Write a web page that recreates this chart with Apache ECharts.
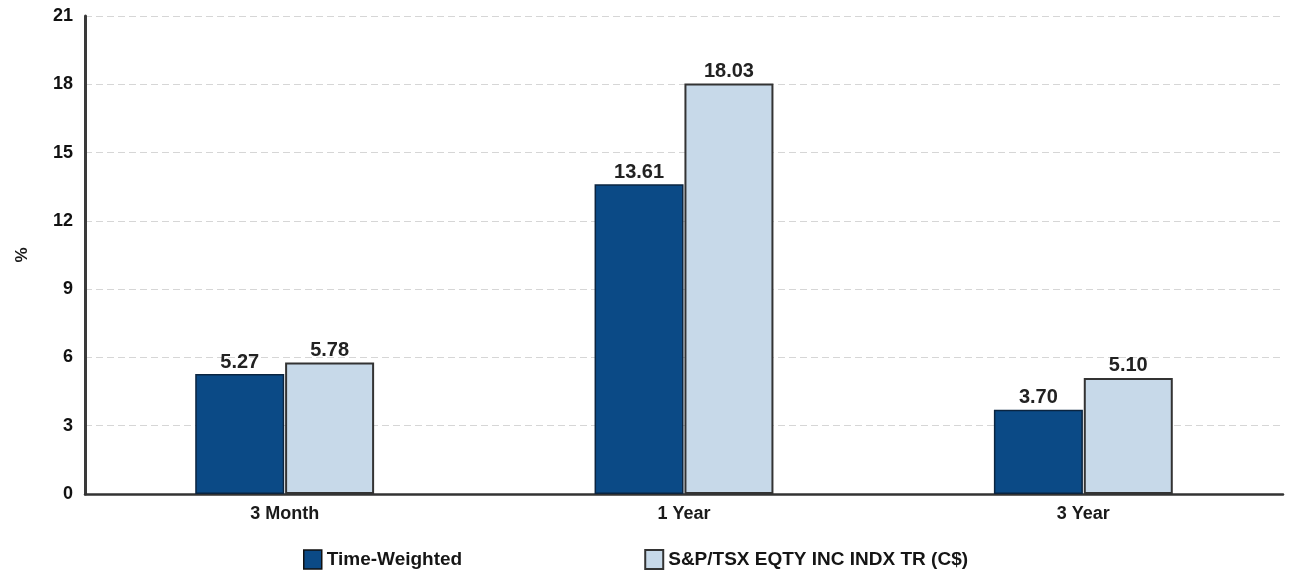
<!DOCTYPE html>
<html>
<head>
<meta charset="utf-8">
<script src="https://cdn.jsdelivr.net/npm/echarts@6/dist/echarts.min.js"></script>
<style>
  html, body { margin: 0; padding: 0; background: #fff; }
  #chart { width: 1290px; height: 573px; }
</style>
</head>
<body>
<div id="chart"></div>
<script>
// Return periods and series values (%)
const periods = ['3 Month', '1 Year', '3 Year'];
const timeWeighted = [5.27, 13.61, 3.70];
const benchmark = [5.78, 18.03, 5.10];
const seriesNames = ['Time-Weighted', 'S&P/TSX EQTY INC INDX TR (C$)'];

const font = '"Liberation Sans", Arial, sans-serif';
const darkBlue = '#0b4a86';
const paleBlue = '#c7d9e9';

const chart = echarts.init(document.getElementById('chart'), null, { renderer: 'canvas' });

const valueLabel = {
  show: true,
  position: 'top',
  distance: 2,
  color: '#222',
  fontFamily: font,
  fontSize: 20,
  fontWeight: 'bold',
  formatter: p => p.value.toFixed(2)
};

chart.setOption({
  animation: false,
  backgroundColor: '#fff',
  grid: { left: 85, right: 7, top: 16, bottom: 79, containLabel: false },
  legend: {
    top: 544,
    left: 298,
    icon: 'rect',
    itemWidth: 18,
    itemHeight: 19,
    itemGap: 182,
    textStyle: { fontFamily: font, fontSize: 19, color: '#151515', fontWeight: 'bold' },
    data: [
      { name: seriesNames[0], itemStyle: { color: darkBlue, borderColor: '#111', borderWidth: 1.5 } },
      { name: seriesNames[1], itemStyle: { color: paleBlue, borderColor: '#333', borderWidth: 2 } }
    ]
  },
  xAxis: {
    type: 'category',
    data: periods,
    axisLine: { lineStyle: { color: '#333', width: 2.5 } },
    axisTick: { show: false },
    axisLabel: { color: '#1a1a1a', fontFamily: font, fontSize: 18, fontWeight: 'bold', margin: 11 }
  },
  yAxis: {
    type: 'value',
    min: 0,
    max: 21,
    interval: 3,
    name: '%',
    nameLocation: 'middle',
    nameGap: 54,
    nameRotate: 90,
    nameTextStyle: { color: '#1a1a1a', fontFamily: font, fontSize: 17, fontWeight: 'bold' },
    axisLine: { show: true, lineStyle: { color: '#3a3a3a', width: 3 } },
    axisTick: { show: false },
    axisLabel: { color: '#111', fontFamily: font, fontSize: 18, fontWeight: 'bold', margin: 12 },
    splitLine: { lineStyle: { color: '#d6d6d6', type: [7, 4], width: 1 } }
  },
  series: [
    {
      name: seriesNames[0],
      type: 'bar',
      data: timeWeighted,
      barWidth: 89,
      barGap: '1%',
      itemStyle: { color: darkBlue, borderColor: '#0a2440', borderWidth: 1.5 },
      label: valueLabel
    },
    {
      name: seriesNames[1],
      type: 'bar',
      data: benchmark,
      barWidth: 89,
      itemStyle: { color: paleBlue, borderColor: '#333', borderWidth: 2 },
      label: valueLabel
    }
  ]
});
</script>
</body>
</html>
